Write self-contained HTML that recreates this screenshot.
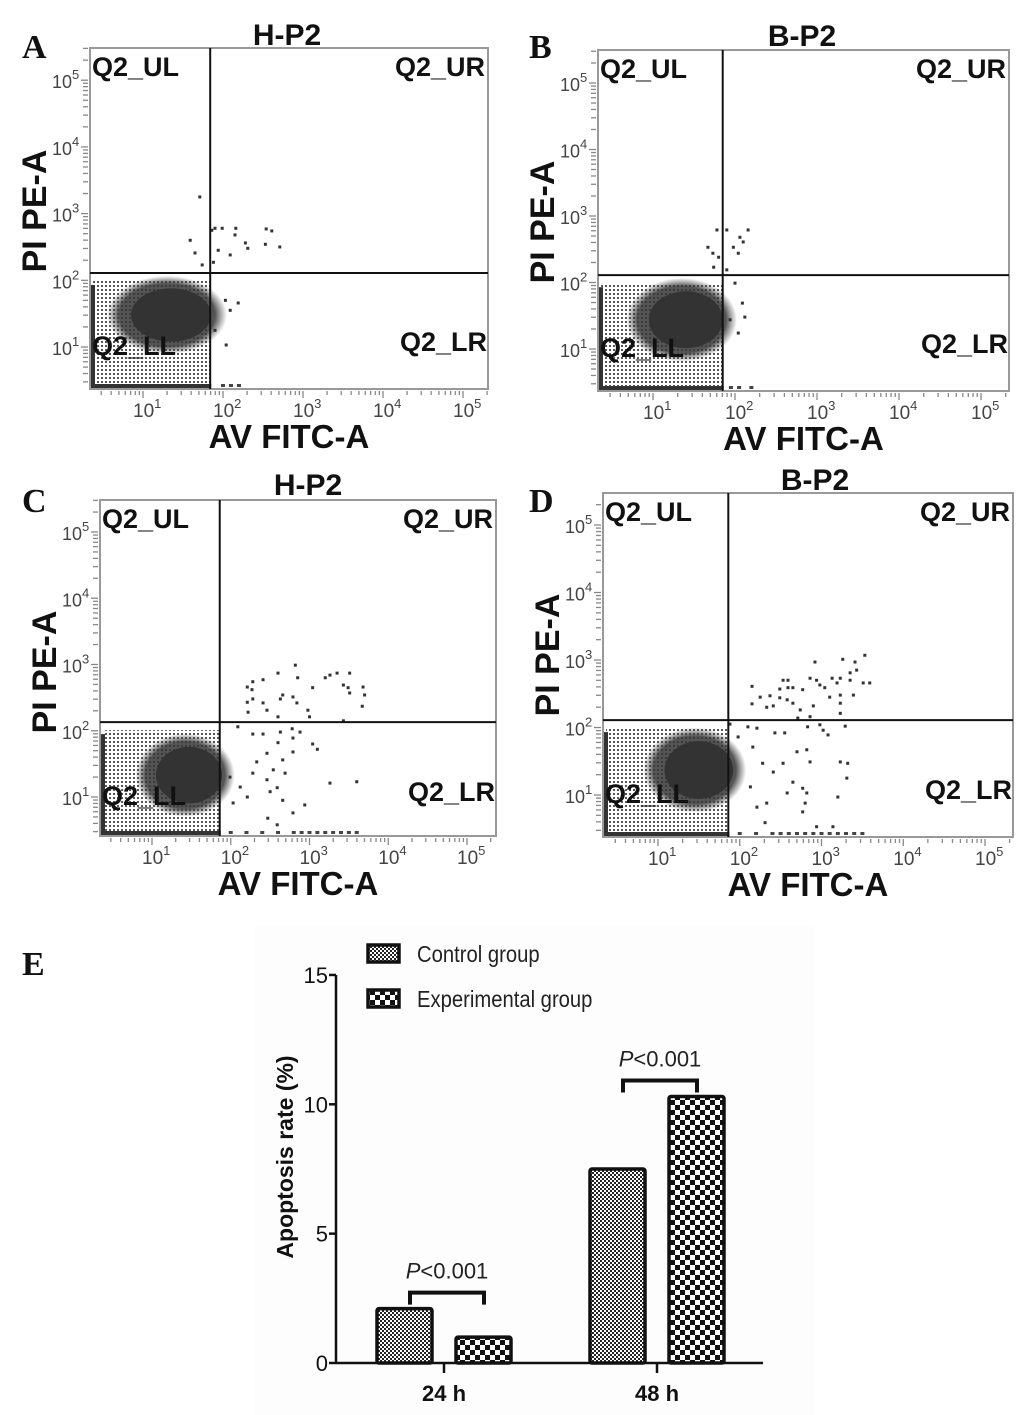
<!DOCTYPE html>
<html><head><meta charset="utf-8">
<style>
html,body{margin:0;padding:0;background:#fff;}
svg{display:block;}
.sans{font-family:"Liberation Sans",sans-serif;}
.serif{font-family:"Liberation Serif",serif;}
</style></head>
<body>
<svg id="fig" width="1033" height="1415" viewBox="0 0 1033 1415" xmlns="http://www.w3.org/2000/svg">
<defs>
<pattern id="lattice" width="4" height="4" patternUnits="userSpaceOnUse"><rect x="1" y="1" width="2" height="2" fill="#444"/></pattern>
<pattern id="fineCheck" width="4" height="4" patternUnits="userSpaceOnUse"><rect width="4" height="4" fill="#fff"/><rect width="2" height="2" fill="#222"/><rect x="2" y="2" width="2" height="2" fill="#222"/></pattern>
<pattern id="coarseCheck" width="10" height="10" patternUnits="userSpaceOnUse"><rect width="10" height="10" fill="#fff"/><rect width="5" height="5" fill="#111"/><rect x="5" y="5" width="5" height="5" fill="#111"/></pattern>
<radialGradient id="blobGrad"><stop offset="0" stop-color="#333"/><stop offset="0.8" stop-color="#363636"/><stop offset="1" stop-color="#444" stop-opacity="0"/></radialGradient>
</defs>
<rect x="255" y="925" width="560" height="490" fill="#fdfdfd"/>
</svg>
<script>
// ---------- Flow cytometry data (log10 units) ----------
const panelLetters = ["A","B","C","D"];
const panelTitles = ["H-P2","B-P2","H-P2","B-P2"];
const gateX = [1.84, 1.85, 1.86, 1.86];
const gateY = [2.11, 2.11, 2.13, 2.11];
const blobA = [1.3, 1.48, 0.5, 0.42];
const blobB = [1.35, 1.44, 0.45, 0.45];
const blobC = [1.42, 1.33, 0.42, 0.45];
const blobD = [1.45, 1.37, 0.42, 0.45];
const ptsA = [[1.71,3.25],[1.59,2.6],[1.65,2.41],[1.86,2.75],[1.9,2.78],[1.99,2.78],[2.16,2.78],[2.15,2.68],[2.28,2.56],[2.31,2.48],[2.54,2.77],[2.61,2.74],[2.53,2.54],[2.71,2.5],[1.94,2.45],[2.09,2.38],[1.74,2.23],[1.88,2.27],[2.03,1.7],[2.09,1.55],[1.9,1.25],[2.04,1.03],[2.19,1.66]];
const ptsB = [[1.78,2.79],[1.9,2.79],[2.16,2.79],[2.06,2.68],[2.1,2.61],[1.98,2.53],[2.04,2.44],[1.67,2.53],[1.73,2.44],[1.8,2.38],[1.74,2.23],[1.9,2.19],[2.0,1.99],[2.09,1.69],[2.12,1.48],[1.94,1.44],[2.04,1.24]];
const ptsC = [[2.82,2.99],[2.6,2.87],[2.41,2.77],[2.28,2.74],[2.21,2.66],[2.27,2.62],[2.85,2.8],[3.04,2.65],[3.2,2.8],[3.26,2.84],[3.35,2.87],[3.51,2.87],[3.43,2.69],[3.49,2.65],[3.68,2.66],[3.7,2.54],[3.67,2.37],[3.51,2.57],[2.66,2.54],[2.79,2.51],[2.63,2.48],[2.21,2.43],[2.28,2.48],[2.41,2.42],[2.46,2.31],[2.84,2.42],[2.98,2.31],[2.22,2.28],[2.6,2.21],[3.0,2.21],[3.43,2.15],
 [2.09,2.06],[2.28,1.95],[2.41,1.95],[2.63,1.98],[2.78,2.03],[2.88,1.98],[2.6,1.82],[2.79,1.89],[2.79,1.68],[3.04,1.8],[3.1,1.72],[2.46,1.66],[2.33,1.53],[2.54,1.41],[2.66,1.56],[2.28,1.36],[2.46,1.26],[2.59,1.14],[2.69,1.36],[3.26,1.21],[3.6,1.23],[2.66,0.95],[2.94,0.88],[2.79,0.76],[2.47,0.68],[2.59,0.58],[2.03,0.91],[2.12,1.15],[1.99,1.3],[2.21,1.0],[2.5,1.08]];
const ptsD = [[3.53,3.07],[3.26,3.01],[3.41,2.97],[3.43,2.85],[3.35,2.81],[2.92,2.97],[3.35,2.7],[3.23,2.73],[2.86,2.73],[2.94,2.7],[3.13,2.73],[3.19,2.66],[2.98,2.63],[3.04,2.59],[3.1,2.45],[3.23,2.48],[3.39,2.48],[3.51,2.66],[3.59,2.66],[2.53,2.7],[2.59,2.7],[2.59,2.59],[2.49,2.57],[2.65,2.59],[2.77,2.56],[2.37,2.47],[2.15,2.61],[2.25,2.45],[2.49,2.44],[2.58,2.41],[2.65,2.36],[2.15,2.35],[2.33,2.3],[2.41,2.32],[2.74,2.26],[2.9,2.32],[3.23,2.36],[2.71,2.14],[2.86,2.16],[3.23,2.21],
 [1.88,2.05],[2.1,2.01],[2.21,1.99],[1.98,1.86],[2.16,1.71],[2.43,1.92],[2.55,1.92],[2.83,2.01],[2.98,2.04],[3.02,1.96],[3.08,1.89],[3.29,2.02],[2.28,1.47],[2.53,1.47],[2.7,1.64],[2.82,1.67],[2.86,1.49],[3.23,1.49],[3.32,1.47],[2.41,1.34],[2.65,1.19],[2.77,1.1],[2.58,1.03],[2.82,1.03],[3.31,1.25],[2.33,0.88],[2.8,0.88],[2.77,0.75],[3.2,0.97],[2.13,1.12],[2.21,0.82],[2.94,0.53],[3.14,0.53],[2.31,0.59]];
const floorA = [2.0, 2.1, 2.2];
const floorB = [1.95, 2.05, 2.2];
const floorC = [2.0,2.2,2.4,2.6,2.8,2.9,3.0,3.1,3.2,3.3,3.4,3.5,3.6];
const floorD = [2.0,2.2,2.4,2.5,2.6,2.7,2.8,2.9,3.0,3.1,3.2,3.3,3.4,3.5];
const decadeLabels = ["1","2","3","4","5"];
// ---------- Bar chart data ----------
const barCategories = ["24 h","48 h"];
const controlValues = [2.1, 7.5];
const experimentalValues = [1.0, 10.3];
const pLabels = ["<0.001","<0.001"];
const yTicks = [0,5,10,15];

const NS="http://www.w3.org/2000/svg";
const svg=document.getElementById('fig');
function el(tag,attrs,parent){const e=document.createElementNS(NS,tag);for(const k in attrs)e.setAttribute(k,attrs[k]);(parent||svg).appendChild(e);return e;}

const geo=[
 {L:90,R:488,T:48,B:389,x10:143,xd:80,y10:347,yd:66.7,letterX:22,letterY:58,titleX:287,titleY:45,ylc:211},
 {L:598,R:1009,T:50,B:391,x10:653,xd:82,y10:349,yd:66.5,letterX:529,letterY:58,titleX:802,titleY:46,ylc:222},
 {L:100,R:496,T:500,B:836,x10:152,xd:78.75,y10:797,yd:66.25,letterX:22,letterY:512,titleX:308,titleY:495,ylc:672},
 {L:603,R:1013,T:493,B:837,x10:658,xd:81.75,y10:795,yd:67.5,letterX:529,letterY:512,titleX:815,titleY:490,ylc:655}
];
const blobs=[blobA,blobB,blobC,blobD];
const pts=[ptsA,ptsB,ptsC,ptsD];
const floors=[floorA,floorB,floorC,floorD];

geo.forEach((g,i)=>{
 const gr=el('g',{class:'sans'});
 
 
 const sx=v=>g.x10+(v-1)*g.xd, sy=v=>g.y10-(v-1)*g.yd;
 const letter=el('text',{class:'serif',x:g.letterX,y:g.letterY,'font-weight':'bold','font-size':34,fill:'#111'},gr);
 letter.textContent=panelLetters[i];
 
 
 const t=el('text',{x:g.titleX,y:g.titleY,'text-anchor':'middle','font-weight':'bold','font-size':30,fill:'#111'},gr);
 t.textContent=panelTitles[i];
 
 
 const vx=sx(gateX[i]), hy=sy(gateY[i]);
 const ll=el('rect',{x:g.L+3,y:hy+8,width:vx-g.L-3,height:g.B-hy-10,fill:'url(#lattice)',opacity:0.9},gr);
 
 
 const b=blobs[i];
 const bl=el('ellipse',{cx:sx(b[0]),cy:sy(b[1]),rx:b[2]*g.xd*1.5,ry:b[3]*g.yd*1.4,fill:'url(#blobGrad)',opacity:0.85},gr);
 
 
 el('ellipse',{cx:sx(b[0]+0.05),cy:sy(b[1]),rx:b[2]*g.xd*1.0,ry:b[3]*g.yd*0.95,fill:'#333'},gr);
 pts[i].forEach(p=>{
  const d=el('rect',{x:sx(p[0])-1.5,y:sy(p[1])-1.5,width:3,height:3,fill:'#333'},gr);
  
  
 });
 floors[i].forEach(v=>{
  const d=el('rect',{x:sx(v)-2,y:g.B-5,width:4,height:3,fill:'#444'},gr);
  
  
 });
 el('rect',{x:g.L+1,y:hy+12,width:4,height:g.B-hy-12,fill:'#333'},gr);
 el('rect',{x:g.L+1,y:g.B-5,width:vx-g.L,height:4,fill:'#333'},gr);
 const box=el('rect',{x:g.L,y:g.T,width:g.R-g.L,height:g.B-g.T,fill:'none',stroke:'#999','stroke-width':2},gr);
 
 
 const vl=el('line',{x1:vx,y1:g.T,x2:vx,y2:g.B,stroke:'#111','stroke-width':2},gr);
 
 
 const hl=el('line',{x1:g.L,y1:hy,x2:g.R,y2:hy,stroke:'#111','stroke-width':2},gr);
 
 
 for(let d=0;d<=5;d++){for(let m=1;m<=9;m++){
  const v=d+Math.log10(m);
  const X=sx(v);
  if(X>=g.L&&X<=g.R) el('line',{x1:X,y1:g.B+2,x2:X,y2:g.B+(m===1?9:6),stroke:'#888','stroke-width':1.3},gr);
  const Y=sy(v);
  if(Y>=g.T&&Y<=g.B) el('line',{x1:g.L-2,y1:Y,x2:g.L-(m===1?9:7),y2:Y,stroke:'#888','stroke-width':1.3},gr);
 }}
 decadeLabels.forEach((s,k)=>{
  const v=k+1;
  const xl=el('text',{x:sx(v)-10,y:g.B+28,'font-size':19,fill:'#444'},gr);
  xl.innerHTML='10<tspan dy="-9" font-size="13">'+s+'</tspan>';
  
  
  const yl=el('text',{x:g.L-38,y:sy(v)+8,'font-size':18,fill:'#444'},gr);
  yl.innerHTML='10<tspan dy="-9" font-size="13">'+s+'</tspan>';
  
  
 });
 const ql=[['Q2_UL',g.L+2,g.T+28,'start'],['Q2_UR',g.R-3,g.T+28,'end'],['Q2_LL',g.L+2,sy(1)+8,'start'],['Q2_LR',g.R-1,sy(1)+4,'end']];
 ql.forEach(q=>{const e=el('text',{x:q[1],y:q[2],'text-anchor':q[3],'font-weight':'bold','font-size':27,fill:'#111'},gr);e.textContent=q[0];
  
  });
 const xt=el('text',{x:(g.L+g.R)/2,y:g.B+59,'text-anchor':'middle','font-weight':'bold','font-size':33,fill:'#111'},gr);
 xt.textContent='AV FITC-A';
 
 
 const yt=el('text',{x:0,y:0,transform:`translate(${g.L-44},${g.ylc}) rotate(-90)`,'text-anchor':'middle','font-weight':'bold','font-size':34,fill:'#111'},gr);
 yt.textContent='PI PE-A';
 
 
});

// ---------- Bar chart ----------
const bc=el('g',{class:'sans'});


const by0=1363, bPer=25.87, axX=336, axR=763;
const bY=v=>by0-v*bPer;
const catX=[444,657];
const E=el('text',{class:'serif',x:22,y:975,'font-weight':'bold','font-size':34,fill:'#111'},bc);
E.textContent='E';


barCategories.forEach((c,i)=>{
 const cx=catX[i];
 const r1=el('rect',{x:cx-67,y:bY(controlValues[i]),width:55,height:by0-bY(controlValues[i]),fill:'url(#fineCheck)',stroke:'#111','stroke-width':3.5,rx:2},bc);
 
 
 const r2=el('rect',{x:cx+12,y:bY(experimentalValues[i]),width:55,height:by0-bY(experimentalValues[i]),fill:'url(#coarseCheck)',stroke:'#111','stroke-width':3.5,rx:2},bc);
 
 
 const top=bY(Math.max(controlValues[i],experimentalValues[i]))-16;
 const br=el('path',{d:`M${cx-34},${top+12} V${top} H${cx+40} V${top+12}`,fill:'none',stroke:'#111','stroke-width':4},bc);
 
 
 const pt=el('text',{x:cx+3,y:top-14,'text-anchor':'middle','font-size':22,fill:'#222'},bc);
 pt.innerHTML='<tspan font-style="italic">P</tspan>'+pLabels[i].replace('<','&lt;');
 
 
 el('line',{x1:cx,y1:by0,x2:cx,y2:by0+10,stroke:'#111','stroke-width':2.5},bc);
 const cl=el('text',{x:cx,y:by0+38,'text-anchor':'middle','font-weight':'bold','font-size':22,fill:'#111'},bc);
 cl.textContent=c;
 
 
});
const ax=el('line',{x1:axX,y1:bY(15),x2:axX,y2:by0+1,stroke:'#111','stroke-width':2.5},bc);


const xa=el('line',{x1:axX,y1:by0,x2:axR,y2:by0,stroke:'#111','stroke-width':2.5},bc);


yTicks.forEach(v=>{
 el('line',{x1:axX-7,y1:bY(v),x2:axX,y2:bY(v),stroke:'#111','stroke-width':2.5},bc);
 const tl=el('text',{x:axX-8,y:bY(v)+8,'text-anchor':'end','font-size':22,fill:'#111'},bc);
 tl.textContent=v;
 
 
});
const ylab=el('text',{x:0,y:0,transform:'translate(293,1157) rotate(-90)','text-anchor':'middle','font-weight':'bold','font-size':23,fill:'#111'},bc);
ylab.textContent='Apoptosis rate (%)';


[['Control group','url(#fineCheck)',945],['Experimental group','url(#coarseCheck)',990]].forEach(l=>{
 const lg=el('g',{},bc);
 
 
 el('rect',{x:368,y:l[2],width:31,height:17,fill:l[1],stroke:'#111','stroke-width':3.5},lg);
 const lt=el('text',{x:417,y:l[2]+17,'font-size':23,fill:'#222'},lg);
 lt.setAttribute('transform',`translate(${417*0.12},0) scale(0.88,1)`);
 lt.textContent=l[0];
});
</script>
</body></html>
